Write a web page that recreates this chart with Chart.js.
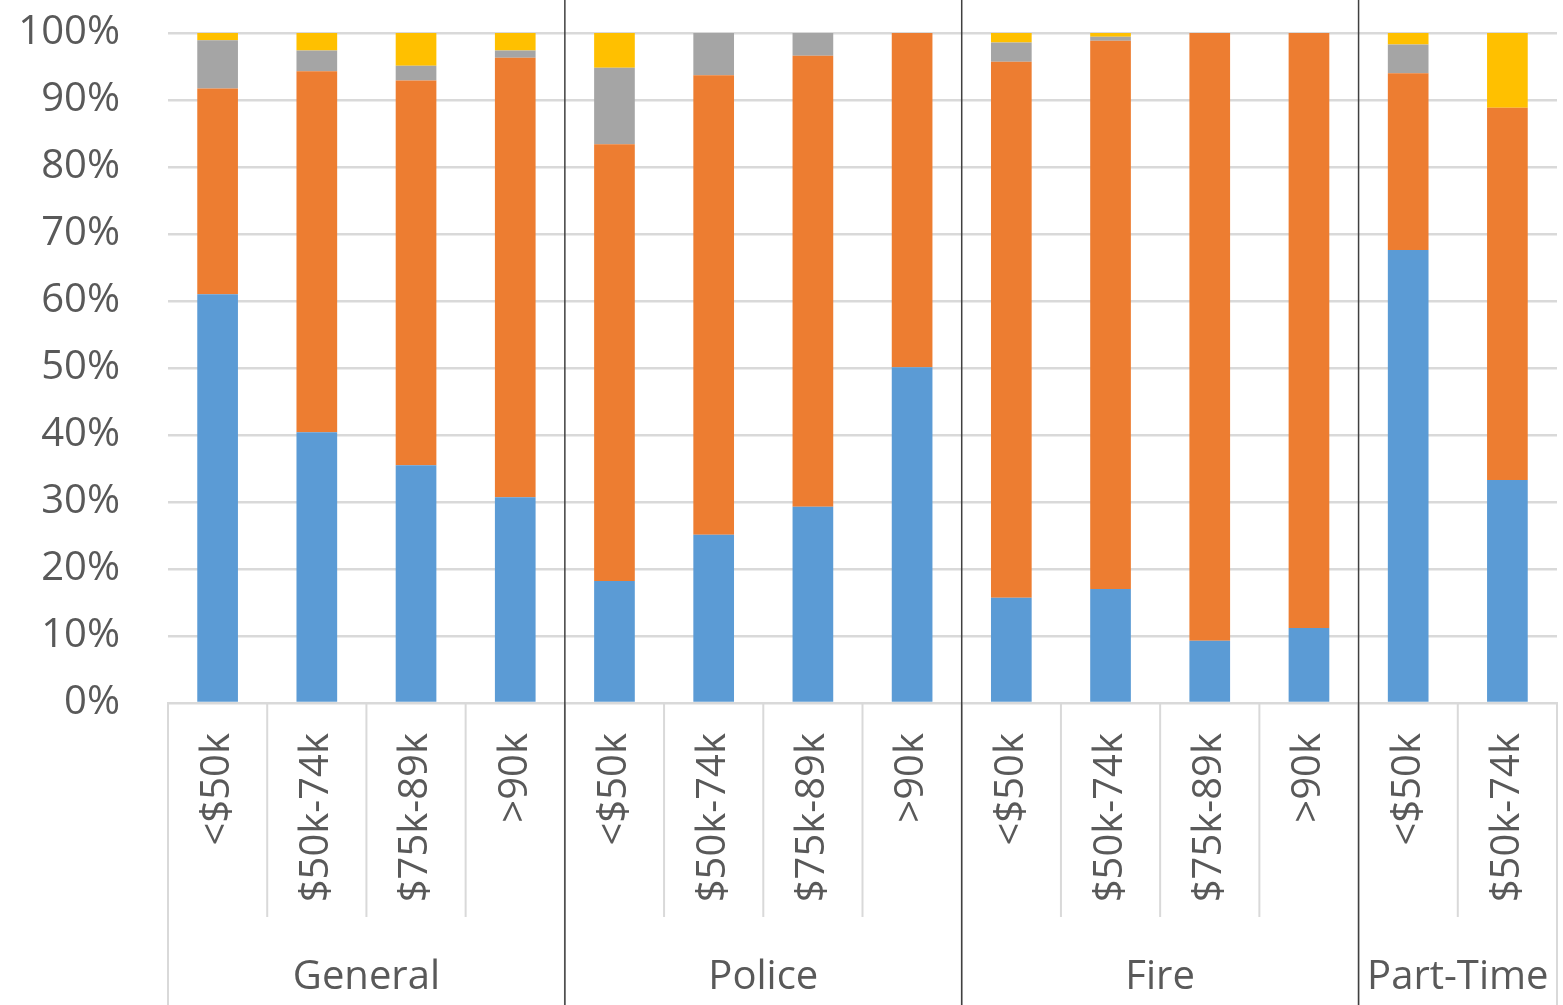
<!DOCTYPE html>
<html>
<head>
<meta charset="utf-8">
<script src="https://cdn.jsdelivr.net/npm/chart.js@4.4.1/dist/chart.umd.min.js"></script>
<style>
html, body { margin: 0; padding: 0; background: #fff; }
#wrap { width: 1563px; height: 1005px; }
</style>
</head>
<body>
<div id="wrap"><canvas id="chart"></canvas></div>
<script>
const groups = ["General", "Police", "Fire", "Part-Time"];
const groupSizes = [4, 4, 4, 2];
const categories = [
    "<$50k", "$50k-74k", "$75k-89k", ">90k",
    "<$50k", "$50k-74k", "$75k-89k", ">90k",
    "<$50k", "$50k-74k", "$75k-89k", ">90k",
    "<$50k", "$50k-74k",
];
// percentages, stacked bottom to top
const blueValues = [61.0, 40.4, 35.5, 30.7, 18.2, 25.1, 29.3, 50.1, 15.7, 17.0, 9.3, 11.2, 67.6, 33.3];
const orangeValues = [30.7, 53.9, 57.4, 65.6, 65.2, 68.6, 67.3, 49.9, 80.0, 81.85, 90.7, 88.8, 26.4, 55.55];
const grayValues = [7.2, 3.1, 2.2, 1.1, 11.4, 6.3, 3.4, 0, 2.9, 0.6, 0, 0, 4.3, 0];
const yellowValues = [1.1, 2.6, 4.9, 2.6, 5.2, 0, 0, 0, 1.4, 0.55, 0, 0, 1.7, 11.15];
const yTicks = [0, 10, 20, 30, 40, 50, 60, 70, 80, 90, 100];

const textColor = "#595959";
const fontFamily = "'Open Sans', sans-serif";

// separators and group names under the category labels
const groupPlugin = {
    id: "groupAxis",
    afterDraw(chart) {
        const ctx = chart.ctx;
        const xScale = chart.scales.x;
        const area = chart.chartArea;
        const step = (area.right - area.left) / categories.length;
        const groupEdges = [0];
        groupSizes.forEach((n) => groupEdges.push(groupEdges[groupEdges.length - 1] + n));

        ctx.save();
        ctx.strokeStyle = "#d9d9d9";
        ctx.lineWidth = 2;
        for (let i = 0; i <= categories.length; i++) {
            let x = xScale.getPixelForValue(Math.min(i, categories.length - 1)) + (i === categories.length ? step / 2 : -step / 2);
            let bottom = groupEdges.includes(i) ? chart.height : 917;
            ctx.beginPath();
            ctx.moveTo(x, area.bottom);
            ctx.lineTo(x, bottom);
            ctx.stroke();
        }

        ctx.strokeStyle = "#404040";
        ctx.lineWidth = 1.5;
        groupEdges.slice(1, -1).forEach((i) => {
            let x = xScale.getPixelForValue(i) - step / 2;
            ctx.beginPath();
            ctx.moveTo(x, 0);
            ctx.lineTo(x, chart.height);
            ctx.stroke();
        });

        ctx.fillStyle = textColor;
        ctx.font = "40px " + fontFamily;
        ctx.textAlign = "center";
        ctx.textBaseline = "middle";
        groups.forEach((name, g) => {
            let x0 = xScale.getPixelForValue(groupEdges[g]) - step / 2;
            let x1 = xScale.getPixelForValue(groupEdges[g + 1] - 1) + step / 2;
            ctx.fillText(name, (x0 + x1) / 2, 978);
        });
        ctx.restore();
    },
};

let ctx = document.getElementById("chart").getContext("2d");

let data = {
    labels: categories,
    datasets: [
        { label: "Blue", backgroundColor: "#5B9BD5", data: blueValues },
        { label: "Orange", backgroundColor: "#ED7D31", data: orangeValues },
        { label: "Gray", backgroundColor: "#A5A5A5", data: grayValues },
        { label: "Yellow", backgroundColor: "#FFC000", data: yellowValues },
    ],
};

let options = {
    responsive: true,
    maintainAspectRatio: false,
    animation: false,
    layout: { padding: { top: 33, right: 6, left: 0, bottom: 0 } },
    datasets: { bar: { categoryPercentage: 1, barPercentage: 0.41 } },
    plugins: { legend: { display: false }, tooltip: { enabled: false } },
    scales: {
        x: {
            stacked: true,
            grid: { display: false, drawTicks: false },
            border: { display: true, color: "#d9d9d9", width: 2 },
            ticks: {
                minRotation: 90,
                maxRotation: 90,
                autoSkip: false,
                padding: 30,
                color: textColor,
                font: { size: 40, family: fontFamily },
            },
            afterFit: (scale) => {
                scale.height = 302;
                scale.paddingLeft = 0;
                scale.paddingRight = 0;
            },
        },
        y: {
            stacked: true,
            min: 0,
            max: 100,
            afterBuildTicks: (scale) => { scale.ticks = yTicks.map((v) => ({ value: v })); },
            grid: { color: "#d9d9d9", lineWidth: 2.5, drawTicks: false },
            border: { display: false },
            ticks: {
                padding: 48,
                color: textColor,
                font: { size: 40, family: fontFamily },
                callback: (v) => v + "%",
            },
            afterFit: (scale) => {
                scale.width = 168;
                scale.paddingTop = 0;
                scale.paddingBottom = 0;
            },
        },
    },
};

let myChart = new Chart(ctx, {
    type: "bar",
    data: data,
    options: options,
    plugins: [groupPlugin],
});
</script>
</body>
</html>
